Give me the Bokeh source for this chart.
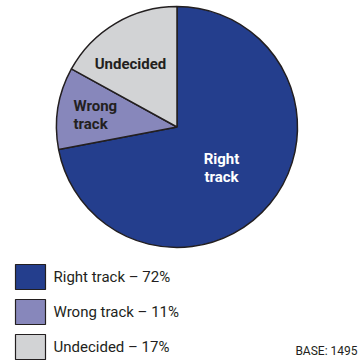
import math
from bokeh.plotting import figure
from bokeh.models import Range1d, ColumnDataSource
from bokeh.core.properties import value
from bokeh.embed import file_html
from bokeh.resources import INLINE

categories = ["Right track", "Wrong track", "Undecided"]
percents = [72, 11, 17]
colors = ["#243e8d", "#8787bb", "#d2d3d5"]
base_text = "BASE: 1495"

W, H = 359, 360
p = figure(width=W, height=H, output_backend="svg", toolbar_location=None,
           x_range=Range1d(0, W), y_range=Range1d(0, H), min_border=0)
p.axis.visible = False
p.grid.visible = False
p.outline_line_color = None
p.background_fill_color = "white"

cx, cy, r = 176.5, H - 126.5, 120.5
ink = "#231f20"

# pie wedges, clockwise from 12 o'clock
starts, ends = [], []
a = math.pi / 2
for v in percents:
    starts.append(a)
    a -= v / 100 * 2 * math.pi
    ends.append(a)
src = ColumnDataSource(dict(start=starts, end=ends, color=colors))
p.wedge(x=cx, y=cy, radius=r, start_angle="start", end_angle="end", direction="clock",
        fill_color="color", line_color=ink, line_width=1.5, source=src)

# in-pie labels
fnt = value("Roboto")
p.text(x=[221, 221], y=[H - 158, H - 176], text=["Right", "track"], text_color="white",
       text_font=fnt, text_font_style="bold", text_font_size="15px",
       text_align="center", text_baseline="middle")
p.text(x=[73, 73], y=[H - 105, H - 123], text=["Wrong", "track"], text_color=ink,
       text_font=fnt, text_font_style="bold", text_font_size="15px",
       text_align="left", text_baseline="middle")
p.text(x=[130], y=[H - 63], text=["Undecided"], text_color=ink,
       text_font=fnt, text_font_style="bold", text_font_size="15px",
       text_align="center", text_baseline="middle")

# legend
ly = [H - (276.5 + 35 * i) for i in range(len(categories))]
p.rect(x=[30] * 3, y=ly, width=30, height=25, fill_color=colors, line_color=ink, line_width=1.2)
labels = [f"{c} \u2013 {v}%" for c, v in zip(categories, percents)]
p.text(x=[53] * 3, y=ly, text=labels, text_color=ink, text_font=fnt,
       text_font_size="15px", text_align="left", text_baseline="middle")
p.text(x=[357], y=[H - 350], text=[base_text], text_color=ink, text_font=fnt,
       text_font_size="12px", text_align="right", text_baseline="middle")

open("out.html", "w").write(file_html(p, INLINE))
